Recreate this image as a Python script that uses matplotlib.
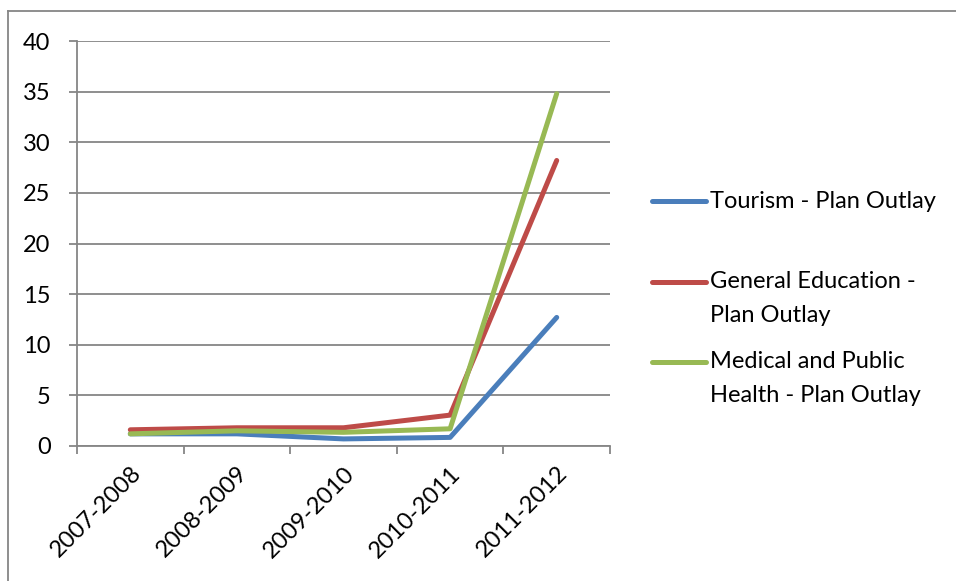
import matplotlib.pyplot as plt
from matplotlib.lines import Line2D

plt.rcParams['font.family'] = ['Lato', 'DejaVu Sans']

# Plan outlay by year
years = ["2007-2008", "2008-2009", "2009-2010", "2010-2011", "2011-2012"]
tourism = [1.2, 1.2, 0.7, 0.85, 12.7]
education = [1.6, 1.8, 1.8, 3.05, 28.2]
health = [1.2, 1.5, 1.35, 1.7, 34.8]

labels = ["Tourism - Plan Outlay",
          "General Education -\nPlan Outlay",
          "Medical and Public\nHealth - Plan Outlay"]
colors = ["#4A7EBB", "#BE4B48", "#98B954"]

fig = plt.figure(figsize=(9.56, 5.81), dpi=100)
ax = fig.add_axes([77 / 956, 1 - 446 / 581, (610 - 77) / 956, (446 - 41) / 581])

x = range(len(years))
for ys, c in zip([tourism, education, health], colors):
    ax.plot(x, ys, color=c, lw=3.6, solid_capstyle='round', solid_joinstyle='round')

ax.set_xlim(-0.5, len(years) - 0.5)
ax.set_ylim(0, 40)
ax.set_yticks(range(0, 41, 5))
ax.yaxis.grid(True, color="#868686", lw=1.3)
ax.set_axisbelow(True)

# category boundaries get the tick marks, labels sit at the centres
ax.set_xticks([i - 0.5 for i in range(len(years) + 1)])
ax.set_xticklabels([])
ax.set_xticks(list(x), minor=True)
ax.set_xticklabels(years, minor=True, rotation=45, ha='right',
                   rotation_mode='anchor', fontsize=17)
ax.tick_params(axis='x', which='minor', length=0, pad=12)
ax.tick_params(axis='x', which='major', length=6, width=1.3, color="#868686")
ax.tick_params(axis='y', length=6, width=1.3, color="#868686", labelsize=17, pad=13)

for side in ['top', 'right']:
    ax.spines[side].set_visible(False)
for side in ['left', 'bottom']:
    ax.spines[side].set_color("#868686")
    ax.spines[side].set_linewidth(1.3)

# legend drawn in figure pixels to match the spread-out layout
legend_rows = [201, 282, 362]
line_gap = 33
for lab, c, yp in zip(labels, colors, legend_rows):
    yf = 1 - yp / 581
    fig.add_artist(Line2D([652 / 956, 706 / 956], [yf, yf], color=c, lw=3.6,
                          solid_capstyle='round'))
    extra = line_gap * lab.count("\n")
    fig.text(710 / 956, 1 - (yp + 7 + extra) / 581, lab, fontsize=17, ha='left',
             va='baseline', linespacing=1.74)

# outer chart border (left and top edges visible)
fig.add_artist(Line2D([8 / 956, 8 / 956], [0, 1 - 11 / 581], color="#868686", lw=1.3))
fig.add_artist(Line2D([8 / 956, 1], [1 - 11 / 581, 1 - 11 / 581], color="#868686", lw=1.3))

fig.savefig("out.png", dpi=100)
